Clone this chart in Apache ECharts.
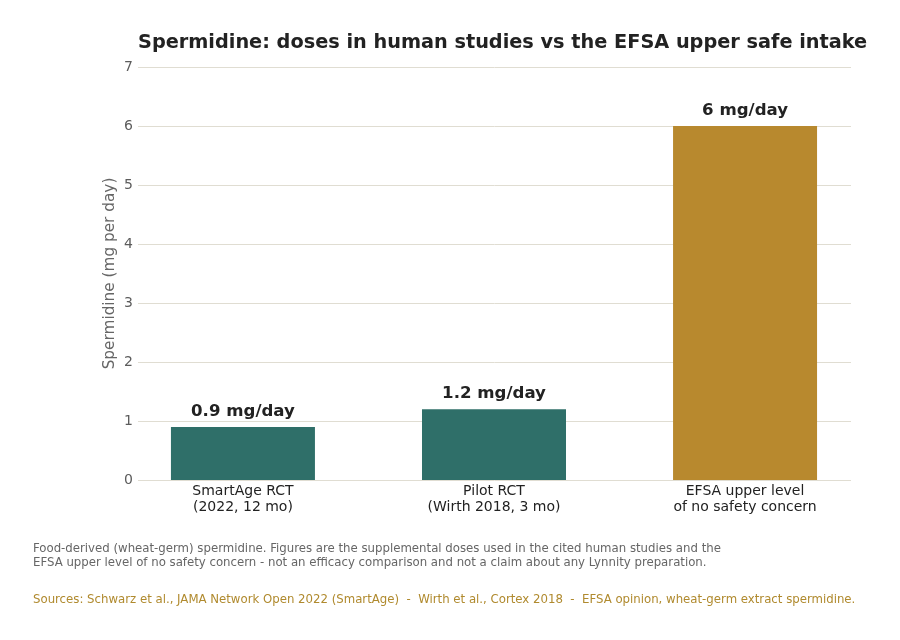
<!DOCTYPE html>
<html>
<head>
<meta charset="utf-8">
<script src="https://cdn.jsdelivr.net/npm/echarts@6/dist/echarts.min.js"></script>
<style>html,body{margin:0;padding:0;background:#fff;}#c{width:900px;height:640px;}</style>
</head>
<body>
<div id="c"></div>
<script>
const categories = ['SmartAge RCT\n(2022, 12 mo)', 'Pilot RCT\n(Wirth 2018, 3 mo)', 'EFSA upper level\nof no safety concern'];
const doses = [0.9, 1.2, 6];
const barColors = ['#2f6f69', '#2f6f69', '#b8892e'];
const yTicks = [0, 1, 2, 3, 4, 5, 6, 7];
const titleText = 'Spermidine: doses in human studies vs the EFSA upper safe intake';
const note1 = 'Food-derived (wheat-germ) spermidine. Figures are the supplemental doses used in the cited human studies and the';
const note2 = 'EFSA upper level of no safety concern - not an efficacy comparison and not a claim about any Lynnity preparation.';
const sources = 'Sources: Schwarz et al., JAMA Network Open 2022 (SmartAge)  -  Wirth et al., Cortex 2018  -  EFSA opinion, wheat-germ extract spermidine.';

const chart = echarts.init(document.getElementById('c'));
const font = 'DejaVu Sans';
chart.setOption({
  animation: false,
  backgroundColor: '#ffffff',
  title: {
    text: titleText,
    left: 138, top: 33, padding: 0,
    textStyle: { fontFamily: font, fontSize: 19.3, fontWeight: 'bold', color: '#222222' }
  },
  grid: { left: 138, right: 49, top: 67, bottom: 160 },
  xAxis: {
    type: 'value',
    min: -0.418, max: 2.422,
    splitLine: { show: false },
    axisLine: { show: false },
    axisTick: { show: false },
    axisLabel: {
      customValues: [0, 1, 2],
      formatter: v => categories[Math.round(v)],
      fontFamily: font, fontSize: 14, color: '#222222', lineHeight: 16, margin: 3
    }
  },
  yAxis: {
    type: 'value',
    min: yTicks[0], max: yTicks[yTicks.length - 1], interval: 1,
    name: 'Spermidine (mg per day)',
    nameLocation: 'middle', nameGap: 20, nameMoveOverlap: false,
    nameTextStyle: { fontFamily: font, fontSize: 15.3, color: '#666666' },
    axisLine: { show: false },
    axisTick: { show: false },
    axisLabel: { fontFamily: font, fontSize: 14, color: '#5c5c5c', margin: 5 },
    splitLine: { lineStyle: { color: '#e0ddd2', width: 1 } }
  },
  series: [{
    type: 'bar',
    barWidth: 144,
    data: doses.map((v, i) => ({ value: [i, v], itemStyle: { color: barColors[i] } })),
    label: {
      show: true, position: 'top', distance: 7,
      formatter: p => p.value[1] + ' mg/day',
      fontFamily: font, fontSize: 16.6, fontWeight: 'bold', color: '#222222'
    }
  }],
  graphic: [
    { type: 'text', left: 33, top: 542, style: { text: note1 + '\n' + note2, font: '13.05px "DejaVu Sans Condensed", "DejaVu Sans"', fill: '#666666', lineHeight: 13.5 } },
    { type: 'text', left: 33, top: 593, style: { text: sources, font: '13.05px "DejaVu Sans Condensed", "DejaVu Sans"', fill: '#b08a2e' } }
  ]
});
</script>
</body>
</html>
